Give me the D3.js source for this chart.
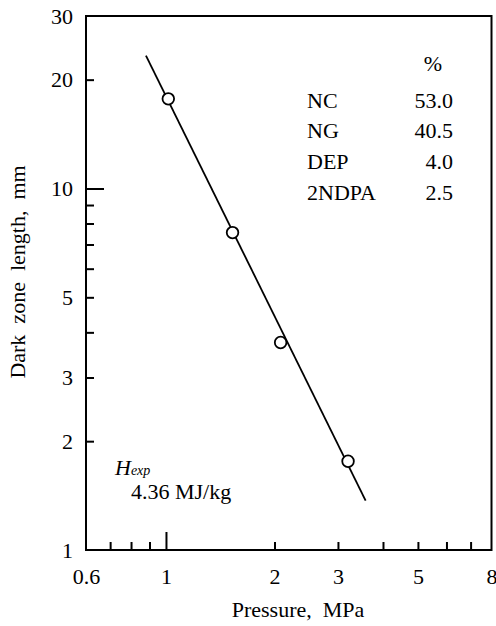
<!DOCTYPE html>
<html><head><meta charset="utf-8">
<script src="https://cdn.jsdelivr.net/npm/d3@7"></script>
</head><body style="margin:0"><svg id="c" width="496" height="626"></svg>
<script>
const pressure = [1.015, 1.53, 2.08, 3.2];
const darkZone = [17.7, 7.55, 3.75, 1.76];
const fitPressure = [0.88, 3.58];
const fitDarkZone = [23.3, 1.37];
const xTickValues = [0.7, 0.8, 0.9, 1, 2, 3, 4, 5, 6, 7];
const xTickLabels = [0.6, 1, 2, 3, 5, 8];
const yTickValues = [2, 3, 4, 5, 6, 7, 8, 9, 10, 20];
const yTickLabels = [1, 2, 3, 5, 10, 20, 30];
const compNames = ["NC", "NG", "DEP", "2NDPA"];
const compValues = ["53.0", "40.5", "4.0", "2.5"];

const FONT = '"Liberation Serif"';
const svg = d3.select("#c").style("font-family", FONT, "important");
const L = 86, R = 491.5, T = 16, B = 550;
const x = d3.scaleLog().domain([0.6, 8]).range([L, R]);
const y = d3.scaleLog().domain([1, 30]).range([B, T]);
const FS = 22;

// ticks
const gx = svg.append("g").attr("transform", `translate(0,${B})`)
  .call(d3.axisBottom(x).tickValues(xTickValues).tickFormat("").tickSizeInner(-8).tickSizeOuter(0));
gx.select(".domain").remove();
gx.selectAll(".tick line").attr("stroke-width", 2).attr("y2", d => d === 1 ? -18 : -8);
const gxl = svg.append("g").attr("transform", `translate(0,${B})`)
  .call(d3.axisBottom(x).tickValues(xTickLabels).tickFormat(d => d).tickSize(0).tickPadding(18));
gxl.select(".domain").remove();

const gy = svg.append("g").attr("transform", `translate(${L},0)`)
  .call(d3.axisLeft(y).tickValues(yTickValues).tickFormat("").tickSizeInner(-8).tickSizeOuter(0));
gy.select(".domain").remove();
gy.selectAll(".tick line").attr("stroke-width", 2).attr("x2", d => d === 10 ? 18 : 8);
const gyl = svg.append("g").attr("transform", `translate(${L},0)`)
  .call(d3.axisLeft(y).tickValues(yTickLabels).tickFormat(d => d).tickSize(0).tickPadding(13));
gyl.select(".domain").remove();
svg.selectAll("g").attr("font-family", null).attr("font-size", null);

// frame
svg.append("rect").attr("x", L).attr("y", T).attr("width", R - L).attr("height", B - T)
  .attr("fill", "none").attr("stroke", "#000").attr("stroke-width", 2);

// fit line
const line = d3.line().x(d => x(d[0])).y(d => y(d[1]));
svg.append("path").datum(d3.zip(fitPressure, fitDarkZone)).attr("d", line)
  .attr("fill", "none").attr("stroke", "#000").attr("stroke-width", 1.8);

// points
svg.append("g").selectAll("circle").data(d3.zip(pressure, darkZone)).join("circle")
  .attr("cx", d => x(d[0])).attr("cy", d => y(d[1])).attr("r", 5.8)
  .attr("fill", "#fff").attr("stroke", "#000").attr("stroke-width", 1.8);

// axis titles
svg.append("text").attr("x", 298).attr("y", 617).attr("text-anchor", "middle")
  .style("white-space", "pre").text("Pressure,  MPa");
svg.append("text").attr("transform", "translate(25,272) rotate(-90)").attr("text-anchor", "middle")
  .style("white-space", "pre").text("Dark  zone  length,  mm");

// composition table
svg.append("text").attr("x", 433).attr("y", 71).attr("text-anchor", "middle").text("%");
const rowY = d3.scalePoint().domain(compNames).range([107.5, 199.5]);
svg.selectAll("text.n").data(compNames).join("text").attr("class", "n")
  .attr("x", 307).attr("y", d => rowY(d)).text(d => d);
svg.selectAll("text.v").data(compNames).join("text").attr("class", "v")
  .attr("x", 453).attr("y", d => rowY(d)).attr("text-anchor", "end")
  .text((d, i) => compValues[i]);

// H_exp annotation
const h = svg.append("text").attr("x", 115).attr("y", 475).style("font-style", "italic");
h.append("tspan").text("H");
h.append("tspan").attr("class", "sub").text("exp");
svg.append("text").attr("x", 131).attr("y", 499).text("4.36 MJ/kg");

svg.selectAll("text").style("font-family", FONT, "important").style("font-size", FS + "px", "important").attr("fill", "#000");
svg.selectAll("tspan").style("font-family", FONT, "important");
svg.selectAll("tspan.sub").style("font-size", "14px", "important");
</script></body></html>
